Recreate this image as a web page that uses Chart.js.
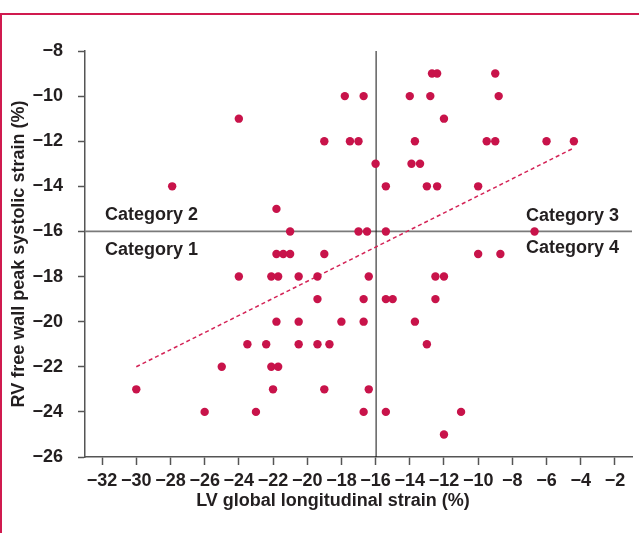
<!DOCTYPE html>
<html>
<head>
<meta charset="utf-8">
<script src="https://cdn.jsdelivr.net/npm/chart.js@4"></script>
<style>
    body { margin: 0; background: #fff; overflow: hidden; }
    #frame {
        position: absolute; left: 0; top: 13px; width: 700px; height: 600px;
        border-left: 2.5px solid #d01a4f; border-top: 2.5px solid #d01a4f;
    }
    #wrap { position: absolute; left: 0; top: 0; width: 639px; height: 533px; }
</style>
</head>
<body>
<div id="frame"></div>
<div id="wrap"><canvas id="strainChart" width="639" height="533"></canvas></div>
<script>
// LV global longitudinal strain (x) and RV free wall strain (y), one entry per patient
const lvStrain = [
    -12.7, -12.4, -9.0,
    -17.8, -16.7, -14.0, -12.8, -8.8,
    -24.0, -12.0,
    -19.0, -17.5, -17.0, -13.7, -9.5, -9.0, -6.0, -4.4,
    -16.0, -13.9, -13.4,
    -27.9, -15.4, -13.0, -12.4, -10.0,
    -21.8,
    -21.0, -17.0, -16.5, -15.4, -6.7,
    -21.8, -21.4, -21.0, -19.0, -10.0, -8.7,
    -24.0, -22.1, -21.7, -20.5, -19.4, -16.4, -12.5, -12.0,
    -19.4, -16.7, -15.4, -15.0, -12.5,
    -21.8, -20.5, -18.0, -16.7, -13.7,
    -23.5, -22.4, -20.5, -19.4, -18.7, -13.0,
    -25.0, -22.1, -21.7,
    -30.0, -22.0, -19.0, -16.4,
    -26.0, -23.0, -16.7, -15.4, -11.0,
    -12.0
];
const rvStrain = [
    -9, -9, -9,
    -10, -10, -10, -10, -10,
    -11, -11,
    -12, -12, -12, -12, -12, -12, -12, -12,
    -13, -13, -13,
    -14, -14, -14, -14, -14,
    -15,
    -16, -16, -16, -16, -16,
    -17, -17, -17, -17, -17, -17,
    -18, -18, -18, -18, -18, -18, -18, -18,
    -19, -19, -19, -19, -19,
    -20, -20, -20, -20, -20,
    -21, -21, -21, -21, -21, -21,
    -22, -22, -22,
    -23, -23, -23, -23,
    -24, -24, -24, -24, -24,
    -25
];
// fitted trend line end points
const trendX = [-30, -4.4];
const trendY = [-22, -12.3];
const xTicks = [-32, -30, -28, -26, -24, -22, -20, -18, -16, -14, -12, -10, -8, -6, -4, -2];
const yTicks = [-8, -10, -12, -14, -16, -18, -20, -22, -24, -26];
const cutoff = -16;
const categories = ['Category 1', 'Category 2', 'Category 3', 'Category 4'];
const xTitle = 'LV global longitudinal strain (%)';
const yTitle = 'RV free wall peak systolic strain (%)';

const red = '#c8134a';
const ink = '#231f20';
const family = '"Liberation Sans", Arial, sans-serif';
const font = 'bold 18px ' + family;

function minus(v) {
    return v < 0 ? '\u2212' + Math.abs(v) : String(v);
}

// quadrant lines and labels
const quadrants = {
    id: 'quadrants',
    beforeDatasetsDraw(chart) {
        const { ctx, chartArea: a, scales: { x, y } } = chart;
        const cy = y.getPixelForValue(cutoff);
        const cx = x.getPixelForValue(cutoff);
        ctx.save();
        ctx.strokeStyle = '#7a7a7a';
        ctx.lineWidth = 1.8;
        ctx.beginPath();
        ctx.moveTo(a.left, cy);
        ctx.lineTo(a.right, cy);
        ctx.stroke();
        ctx.strokeStyle = '#111';
        ctx.lineWidth = 1;
        ctx.beginPath();
        ctx.moveTo(cx + 0.5, a.top);
        ctx.lineTo(cx + 0.5, a.bottom);
        ctx.stroke();

        ctx.font = font;
        ctx.fillStyle = ink;
        ctx.textBaseline = 'alphabetic';
        ctx.textAlign = 'left';
        ctx.fillText(categories[1], a.left + 20, cy - 11);
        ctx.fillText(categories[0], a.left + 20, cy + 24);
        ctx.textAlign = 'right';
        ctx.fillText(categories[2], a.right - 13, cy - 10);
        ctx.fillText(categories[3], a.right - 13, cy + 22);

        // x axis title sits a little left of the plot centre
        ctx.textAlign = 'center';
        ctx.textBaseline = 'middle';
        ctx.fillText(xTitle, 333, 501);
        ctx.restore();
    }
};

const ctx = document.getElementById('strainChart').getContext('2d');
const strainChart = new Chart(ctx, {
    type: 'scatter',
    data: {
        datasets: [
            {
                label: 'Patients',
                data: lvStrain.map((v, i) => ({ x: v, y: rvStrain[i] })),
                backgroundColor: red,
                borderWidth: 0,
                pointRadius: 4.2
            },
            {
                type: 'line',
                label: 'Trend',
                data: trendX.map((v, i) => ({ x: v, y: trendY[i] })),
                borderColor: '#d42457',
                borderWidth: 1.5,
                borderDash: [4, 3],
                pointRadius: 0,
                fill: false
            }
        ]
    },
    options: {
        responsive: false,
        animation: false,
        layout: {
            padding: { top: 51, right: 7, left: 0, bottom: 0 }
        },
        plugins: {
            legend: { display: false },
            tooltip: { enabled: false }
        },
        scales: {
            x: {
                type: 'linear',
                min: -33,
                max: -1,
                afterBuildTicks: scale => {
                    scale.ticks = xTicks.map(v => ({ value: v }));
                },
                afterFit: scale => {
                    scale.height = 76;
                },
                grid: {
                    drawOnChartArea: false,
                    tickLength: 8,
                    tickColor: '#555',
                    tickWidth: 1.5
                },
                border: { display: true, color: '#555', width: 1.5 },
                ticks: {
                    padding: 5,
                    color: ink,
                    font: { family: family, size: 18, weight: 'bold' },
                    maxRotation: 0,
                    autoSkip: false,
                    callback: v => minus(v)
                }
            },
            y: {
                type: 'linear',
                min: -26,
                max: -8,
                afterBuildTicks: scale => {
                    scale.ticks = yTicks.map(v => ({ value: v }));
                },
                afterFit: scale => {
                    scale.width = 85;
                },
                grid: {
                    drawOnChartArea: false,
                    tickLength: 7,
                    tickColor: '#555',
                    tickWidth: 1.5
                },
                border: { display: true, color: '#555', width: 1.5 },
                ticks: {
                    padding: 15,
                    color: ink,
                    font: { family: family, size: 18, weight: 'bold' },
                    callback: v => minus(v)
                },
                title: {
                    display: true,
                    text: yTitle,
                    color: ink,
                    font: { family: family, size: 18, weight: 'bold' },
                    padding: { top: 8, bottom: 0 }
                }
            }
        }
    },
    plugins: [quadrants]
});
</script>
</body>
</html>
